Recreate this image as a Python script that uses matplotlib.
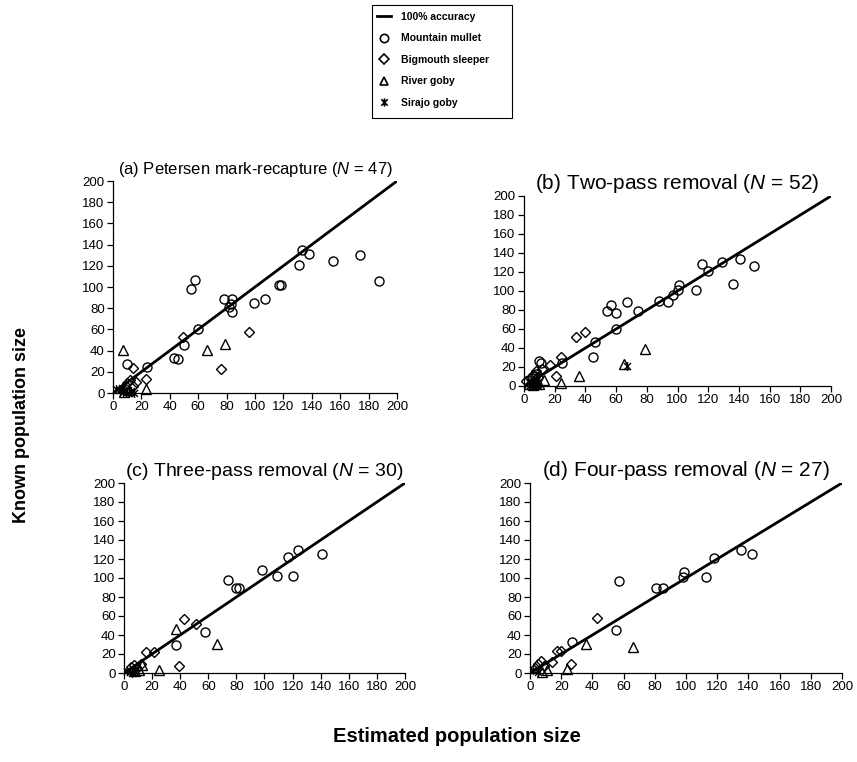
import matplotlib
matplotlib.use('Agg')
import matplotlib.pyplot as plt
from matplotlib.lines import Line2D
from matplotlib.patches import Rectangle
from matplotlib.path import Path

plt.rcParams.update({
    'font.family': ['Liberation Sans', 'DejaVu Sans'],
    'mathtext.fontset': 'custom',
    'mathtext.rm': 'Liberation Sans',
    'mathtext.it': 'Liberation Sans:italic',
})

# (a) Petersen mark-recapture
a_mullet_est   = [10, 24, 43, 46, 50, 55, 58, 60, 78, 84, 82, 84, 83, 99, 107, 117, 118, 131, 133, 138, 155, 174, 187]
a_mullet_known = [27, 25, 33, 32, 45, 98, 107, 60, 89, 89, 81, 76, 84, 85, 89, 102, 102, 121, 135, 131, 125, 130, 106]
a_sleeper_est   = [14, 49, 96, 76, 23, 16, 12, 10, 14, 8]
a_sleeper_known = [24, 53, 58, 23, 13, 10, 12, 9, 7, 6]
a_river_est   = [7, 79, 66, 23, 8, 11]
a_river_known = [41, 46, 41, 4, 1, 3]
a_sirajo_est   = [2, 5, 7, 9, 11, 13, 15, 6]
a_sirajo_known = [4, 3, 1, 2, 0, 2, 0, 5]

# (b) Two-pass removal
b_mullet_est   = [54, 57, 60, 60, 67, 74, 88, 94, 97, 100, 101, 112, 116, 120, 129, 136, 141, 150,
                  45, 46, 25, 10, 11, 7, 5, 8]
b_mullet_known = [79, 85, 77, 60, 88, 79, 89, 88, 96, 101, 106, 101, 128, 121, 130, 107, 134, 126,
                  31, 46, 24, 26, 24, 10, 8, 13]
b_sleeper_est   = [1, 4, 6, 8, 12, 17, 21, 24, 34, 40, 5, 9]
b_sleeper_known = [5, 8, 12, 16, 18, 22, 11, 31, 52, 57, 3, 9]
b_river_est   = [36, 24, 13, 79, 65, 3, 6, 8, 10]
b_river_known = [10, 3, 6, 39, 23, 2, 1, 4, 2]
b_sirajo_est   = [67, 4, 6, 8, 9]
b_sirajo_known = [21, 1, 3, 2, 0]

# (c) Three-pass removal
c_mullet_est   = [37, 58, 74, 80, 82, 98, 109, 117, 120, 124, 141]
c_mullet_known = [30, 43, 98, 89, 89, 108, 102, 122, 102, 130, 125]
c_sleeper_est   = [43, 51, 39, 16, 21, 12, 7, 9, 5]
c_sleeper_known = [57, 52, 7, 22, 22, 10, 8, 5, 6]
c_river_est   = [37, 66, 25, 13, 8, 11]
c_river_known = [46, 31, 3, 8, 2, 3]
c_sirajo_est   = [2, 4, 6, 8]
c_sirajo_known = [2, 1, 0, 1]

# (d) Four-pass removal
d_mullet_est   = [27, 55, 57, 81, 85, 98, 99, 113, 118, 135, 142]
d_mullet_known = [33, 45, 97, 90, 89, 101, 106, 101, 121, 130, 125]
d_sleeper_est   = [43, 17, 20, 26, 14, 7, 5, 3, 9]
d_sleeper_known = [58, 23, 23, 10, 12, 13, 10, 5, 7]
d_river_est   = [36, 66, 24, 11, 8]
d_river_known = [31, 27, 4, 3, 1]
d_sirajo_est   = [2, 5]
d_sirajo_known = [3, 1]

species = ['Mountain mullet', 'Bigmouth sleeper', 'River goby', 'Sirajo goby']
ticks = list(range(0, 201, 20))

# Excel-style star: X with a vertical bar
STAR = Path([(-1, -1), (1, 1), (-1, 1), (1, -1), (0, -1.3), (0, 1.3)],
            [Path.MOVETO, Path.LINETO, Path.MOVETO, Path.LINETO, Path.MOVETO, Path.LINETO])

STYLE = {
    'Mountain mullet':  dict(marker='o', ms=6.5),
    'Bigmouth sleeper': dict(marker='D', ms=5.2),
    'River goby':       dict(marker='^', ms=6.8),
    'Sirajo goby':      dict(marker=STAR, ms=6.5),
}

# each panel was its own chart, so the title sizes differ a little
panels = [
    ('(a) Petersen mark-recapture ($\\it{N}$ = 47)', 12, [113, 181, 397, 393],
     [(a_mullet_est, a_mullet_known), (a_sleeper_est, a_sleeper_known),
      (a_river_est, a_river_known), (a_sirajo_est, a_sirajo_known)]),
    ('(b) Two-pass removal ($\\it{N}$ = 52)', 15, [524, 196, 831, 386],
     [(b_mullet_est, b_mullet_known), (b_sleeper_est, b_sleeper_known),
      (b_river_est, b_river_known), (b_sirajo_est, b_sirajo_known)]),
    ('(c) Three-pass removal ($\\it{N}$ = 30)', 14, [124, 483, 405, 673],
     [(c_mullet_est, c_mullet_known), (c_sleeper_est, c_sleeper_known),
      (c_river_est, c_river_known), (c_sirajo_est, c_sirajo_known)]),
    ('(d) Four-pass removal ($\\it{N}$ = 27)', 15, [530, 483, 842, 673],
     [(d_mullet_est, d_mullet_known), (d_sleeper_est, d_sleeper_known),
      (d_river_est, d_river_known), (d_sirajo_est, d_sirajo_known)]),
]

W, H = 857, 762
fig = plt.figure(figsize=(W / 100, H / 100), dpi=100)

for title, tsize, (x0, y0, x1, y1), series in panels:
    ax = fig.add_axes([x0 / W, 1 - y1 / H, (x1 - x0) / W, (y1 - y0) / H])
    ax.plot([0, 200], [0, 200], color='black', lw=2, zorder=2)
    for name, (xs, ys) in zip(species, series):
        st = STYLE[name]
        ax.plot(xs, ys, ls='none', marker=st['marker'], ms=st['ms'],
                mfc='none', mec='black', mew=1.0, clip_on=False, zorder=3)
    ax.set_xlim(0, 200)
    ax.set_ylim(0, 200)
    ax.set_xticks(ticks)
    ax.set_yticks(ticks)
    for s in ['top', 'right']:
        ax.spines[s].set_visible(False)
    for s in ['left', 'bottom']:
        ax.spines[s].set_linewidth(0.9)
    ax.tick_params(direction='out', length=4, width=0.9, labelsize=9.5, pad=2)
    ax.set_title(title, fontsize=tsize, pad=5)

fig.text(22 / W, 1 - 425 / H, 'Known population size', rotation=90,
         ha='center', va='center', fontsize=13, fontweight='bold')
fig.text(457 / W, 1 - 737 / H, 'Estimated population size',
         ha='center', va='center', fontsize=14.5, fontweight='bold')

# legend box drawn by hand so it can be as wide as the original
fig.patches.append(Rectangle((372 / W, 1 - 118 / H), 140 / W, 113 / H,
                             transform=fig.transFigure, fill=False,
                             edgecolor='black', lw=0.8))
handles = [Line2D([], [], color='black', lw=2)]
for name in species:
    st = STYLE[name]
    handles.append(Line2D([], [], ls='none', marker=st['marker'], ms=st['ms'] - 0.5,
                          mfc='none', mec='black', mew=1.2))
labels = ['100% accuracy'] + species
fig.legend(handles, labels, loc='upper left', bbox_to_anchor=(377 / W, 1 - 12 / H),
           frameon=False, prop={'size': 7.5, 'weight': 'bold'}, handlelength=1.3,
           labelspacing=1.1, borderpad=0, handletextpad=1.0, borderaxespad=0)

fig.savefig('out.png', dpi=100)
